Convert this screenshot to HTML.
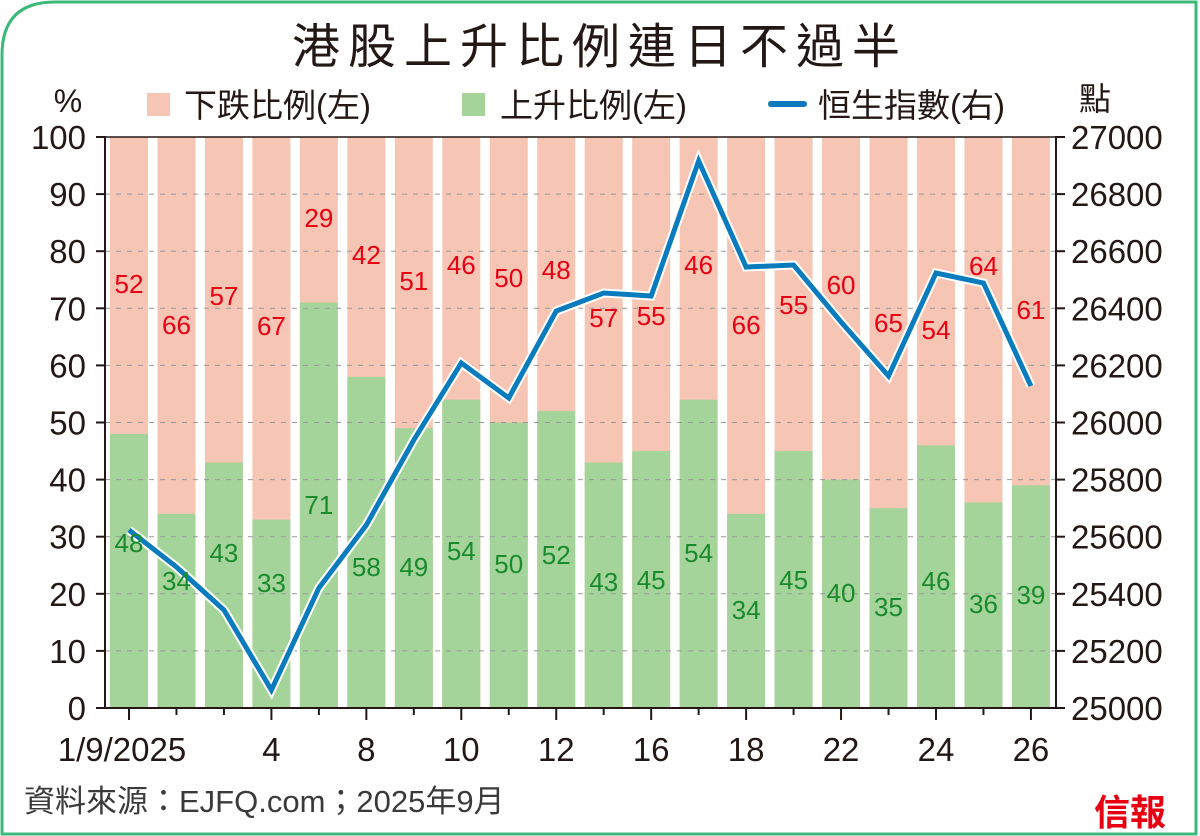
<!DOCTYPE html>
<html><head><meta charset="utf-8"><style>
html,body{margin:0;padding:0;background:#fff;}
svg{display:block;}
text{font-family:"Liberation Sans","Noto Sans CJK TC",sans-serif;}
</style></head><body>
<svg width="1200" height="836" viewBox="0 0 1200 836" xmlns="http://www.w3.org/2000/svg">
<path d="M2,834 L2,55 Q2,2 55,2 L1196,2 L1196,834 Z" fill="#fff" stroke="#3cb878" stroke-width="3"/>
<text x="600" y="63" font-size="48" text-anchor="middle" fill="#231815" letter-spacing="8">港股上升比例連日不過半</text>
<text x="68" y="112" font-size="32" text-anchor="middle" fill="#231815">%</text>
<text x="1095" y="110" font-size="32" text-anchor="middle" fill="#231815">點</text>
<rect x="147" y="93" width="23" height="23" fill="#f6c5b4"/>
<text x="184" y="117" font-size="33" fill="#231815">下跌比例(左)</text>
<rect x="462" y="93" width="23" height="23" fill="#a5d49a"/>
<text x="500" y="117" font-size="33" fill="#231815">上升比例(左)</text>
<line x1="771" y1="104" x2="804" y2="104" stroke="#0a7bbd" stroke-width="6" stroke-linecap="round"/>
<text x="818" y="117" font-size="33" fill="#231815">恒生指數(右)</text>
<g id="bars"></g>
<g id="grid"></g>
<g id="line"></g>
<g id="labels"></g>
<g id="axes"></g>
<text x="24" y="812" font-size="31" fill="#3a3a3a">資料來源：EJFQ.com；2025年9月</text>
<text x="1130" y="825" font-size="36" font-weight="bold" fill="#e60012" font-family="'Noto Serif CJK SC',serif" text-anchor="middle">信報</text>
</svg>
<script>
var ns="http://www.w3.org/2000/svg";
function el(p,t,a,txt){var e=document.createElementNS(ns,t);for(var k in a)e.setAttribute(k,a[k]);if(txt!==undefined)e.textContent=txt;document.getElementById(p).appendChild(e);return e;}
var up=[48,34,43,33,71,58,49,54,50,52,43,45,54,34,45,40,35,46,36,39];
var dn=[52,66,57,67,29,42,51,46,50,48,57,55,46,66,55,60,65,54,64,61];
var ly=[530,567,610,690,588,525,440,363,398,311,293,296,161,267,265,322,376,273,283,386];
var dly=[284,325,296,326,218,255,281,265,278,270,318,316,265,325,305,285,323,330,266,310];
var uly=[543,581,553,583,505,567,567,551,564,555,582,580,553,610,580,593,607,581,604,595];
var Y0=708,H=571,L=105,R=1056;
function cx(i){return 129+i*47.47;}
for(var i=0;i<20;i++){
 var x=cx(i)-19;
 el("bars","rect",{x:x,y:137,width:38,height:H,fill:"#f6c5b4"});
 var h=up[i]/100*H;
 el("bars","rect",{x:x,y:Y0-h,width:38,height:h,fill:"#a5d49a"});
 el("labels","text",{x:cx(i),y:dly[i]+9,"font-size":26,"text-anchor":"middle",fill:"#e60012"},dn[i]);
 el("labels","text",{x:cx(i),y:uly[i]+9,"font-size":26,"text-anchor":"middle",fill:"#1a8a2e"},up[i]);
}
for(var k=1;k<10;k++){var y=Y0-k*H/10;el("grid","line",{x1:L,y1:y,x2:R,y2:y,stroke:"#999","stroke-width":1,"stroke-dasharray":"5,6"});}
var pts=ly.map(function(v,i){return cx(i)+","+v;}).join(" ");
el("line","polyline",{points:pts,fill:"none",stroke:"#fff","stroke-width":9,"stroke-linejoin":"miter"});
el("line","polyline",{points:pts,fill:"none",stroke:"#0a7bbd","stroke-width":5,"stroke-linejoin":"miter"});
el("axes","line",{x1:L,y1:136,x2:L,y2:Y0,stroke:"#231815","stroke-width":2});
el("axes","line",{x1:R,y1:136,x2:R,y2:Y0,stroke:"#231815","stroke-width":2});
el("axes","line",{x1:96,y1:Y0,x2:1065,y2:Y0,stroke:"#231815","stroke-width":2});
el("axes","line",{x1:96,y1:137,x2:1065,y2:137,stroke:"#231815","stroke-width":1.5});
for(var k=0;k<=10;k++){var y=Y0-k*H/10;
 el("axes","line",{x1:96,y1:y,x2:L,y2:y,stroke:"#231815","stroke-width":2});
 el("axes","text",{x:86,y:y+12,"font-size":33,"text-anchor":"end",fill:"#231815"},k*10);}
for(var k=0;k<=10;k++){var y=Y0-k*H/10;
 el("axes","line",{x1:R,y1:y,x2:R+9,y2:y,stroke:"#231815","stroke-width":2});
 el("axes","text",{x:1071,y:y+12,"font-size":33,fill:"#231815"},25000+k*200);}
var lab={0:"1/9/2025",3:"4",5:"8",7:"10",9:"12",11:"16",13:"18",15:"22",17:"24",19:"26"};
for(var i=0;i<20;i++){var maj=lab[i]!==undefined;
 el("axes","line",{x1:cx(i),y1:Y0,x2:cx(i),y2:Y0+(maj?12:7),stroke:"#231815","stroke-width":2});
 if(maj)el("axes","text",{x:i==0?122:cx(i),y:761,"font-size":33,"text-anchor":"middle",fill:"#231815"},lab[i]);}
</script>
</body></html>
